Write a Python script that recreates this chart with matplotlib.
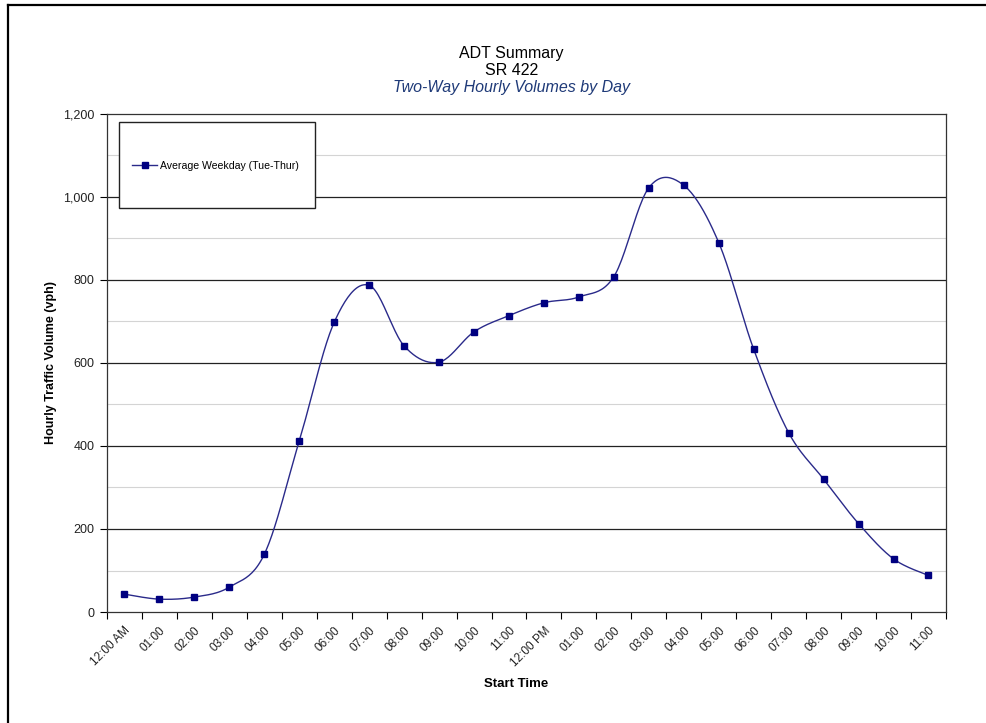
import numpy as np
import matplotlib.pyplot as plt
from matplotlib.patches import Rectangle
from matplotlib.lines import Line2D

plt.rcParams['font.family'] = ['Liberation Sans', 'DejaVu Sans']

hours = ['12:00 AM', '01:00', '02:00', '03:00', '04:00', '05:00', '06:00', '07:00',
         '08:00', '09:00', '10:00', '11:00', '12:00 PM', '01:00', '02:00', '03:00',
         '04:00', '05:00', '06:00', '07:00', '08:00', '09:00', '10:00', '11:00']
weekday = [43, 31, 36, 60, 139, 412, 698, 787, 641, 602, 675, 714,
           745, 759, 808, 1022, 1028, 890, 633, 432, 320, 213, 128, 88]

navy = '#000080'
line_col = '#2a2a8a'


def smooth_curve(x, y, n=24):
    # Catmull-Rom style smoothing through every point (cubic Bezier segments)
    x = np.asarray(x, float)
    y = np.asarray(y, float)
    px = np.concatenate(([x[0]], x, [x[-1]]))
    py = np.concatenate(([y[0]], y, [y[-1]]))
    t = np.linspace(0, 1, n)
    xs, ys = [], []
    for i in range(1, len(px) - 2):
        p0 = np.array([px[i - 1], py[i - 1]])
        p1 = np.array([px[i], py[i]])
        p2 = np.array([px[i + 1], py[i + 1]])
        p3 = np.array([px[i + 2], py[i + 2]])
        c1 = p1 + (p2 - p0) / 6
        c2 = p2 - (p3 - p1) / 6
        b = ((1 - t) ** 3)[:, None] * p1 + (3 * (1 - t) ** 2 * t)[:, None] * c1 \
            + (3 * (1 - t) * t ** 2)[:, None] * c2 + (t ** 3)[:, None] * p2
        xs.append(b[:, 0])
        ys.append(b[:, 1])
    return np.concatenate(xs), np.concatenate(ys)


fig = plt.figure(figsize=(9.87, 7.23), dpi=100)
ax = fig.add_axes([0.1084, 0.1535, 0.85, 0.689])

x = np.arange(len(hours))
sx, sy = smooth_curve(x, weekday)
ax.plot(sx, sy, color=line_col, lw=1.0, zorder=3)
ax.plot(x, weekday, ls='none', marker='s', ms=4.6, color=navy, zorder=4)

ax.set_xlim(-0.5, len(hours) - 0.5)
ax.set_ylim(0, 1200)

# major and minor gridlines
for v in range(100, 1200, 200):
    ax.axhline(v, color='#d4d4d4', lw=0.8, zorder=1)
for v in range(200, 1200, 200):
    ax.axhline(v, color='#222222', lw=0.9, zorder=2)

ax.set_yticks(range(0, 1201, 200))
ax.set_yticklabels([f'{v:,}' for v in range(0, 1201, 200)], fontsize=9, color='#222222')
ax.set_xticks(x)
ax.set_xticklabels(hours, rotation=45, ha='right', rotation_mode='anchor',
                   fontsize=8.5, color='#222222')
ax.set_xticks(np.arange(-0.5, len(hours)), minor=True)
ax.tick_params(axis='x', which='major', length=0, pad=9)
ax.tick_params(axis='x', which='minor', length=5, width=0.8)
ax.tick_params(axis='y', length=5, width=0.8, pad=4)

for s in ax.spines.values():
    s.set_color('#333333')
    s.set_linewidth(0.9)

ax.set_xlabel('Start Time', fontsize=9.5, fontweight='bold')
ax.xaxis.set_label_coords(0.4875, -0.1325)
ax.set_ylabel('Hourly Traffic Volume (vph)', fontsize=9, fontweight='bold')
ax.yaxis.set_label_coords(-0.0596, 0.5)

# legend box inside the plot area
ax.add_patch(Rectangle((0.0143, 0.811), 0.2336, 0.173, transform=ax.transAxes,
                       facecolor='white', edgecolor='#222222', lw=1.0, zorder=5))
handle = Line2D([], [], color=line_col, lw=1.0, marker='s', ms=4, markerfacecolor=navy,
                markeredgecolor=navy)
leg = ax.legend([handle], ['Average Weekday (Tue-Thur)'], frameon=False, fontsize=7.6,
                loc='center left', bbox_to_anchor=(0.030, 0.895), handlelength=2.4,
                handletextpad=0.25, borderaxespad=0, borderpad=0)
leg.set_zorder(6)

fig.text(0.518, 0.9198, 'ADT Summary', ha='center', va='baseline', fontsize=11.5)
fig.text(0.518, 0.8963, 'SR 422', ha='center', va='baseline', fontsize=11.5)
fig.text(0.518, 0.8728, 'Two-Way Hourly Volumes by Day', ha='center', va='baseline',
         fontsize=11.5, style='italic', color='#1f3a78')

# outer frame
fig.add_artist(Line2D([0.008, 0.008], [0.0, 0.993], transform=fig.transFigure,
                      color='black', lw=1.6))
fig.add_artist(Line2D([0.008, 1.0], [0.993, 0.993], transform=fig.transFigure,
                      color='black', lw=1.6))

fig.savefig('out.png', dpi=100)
